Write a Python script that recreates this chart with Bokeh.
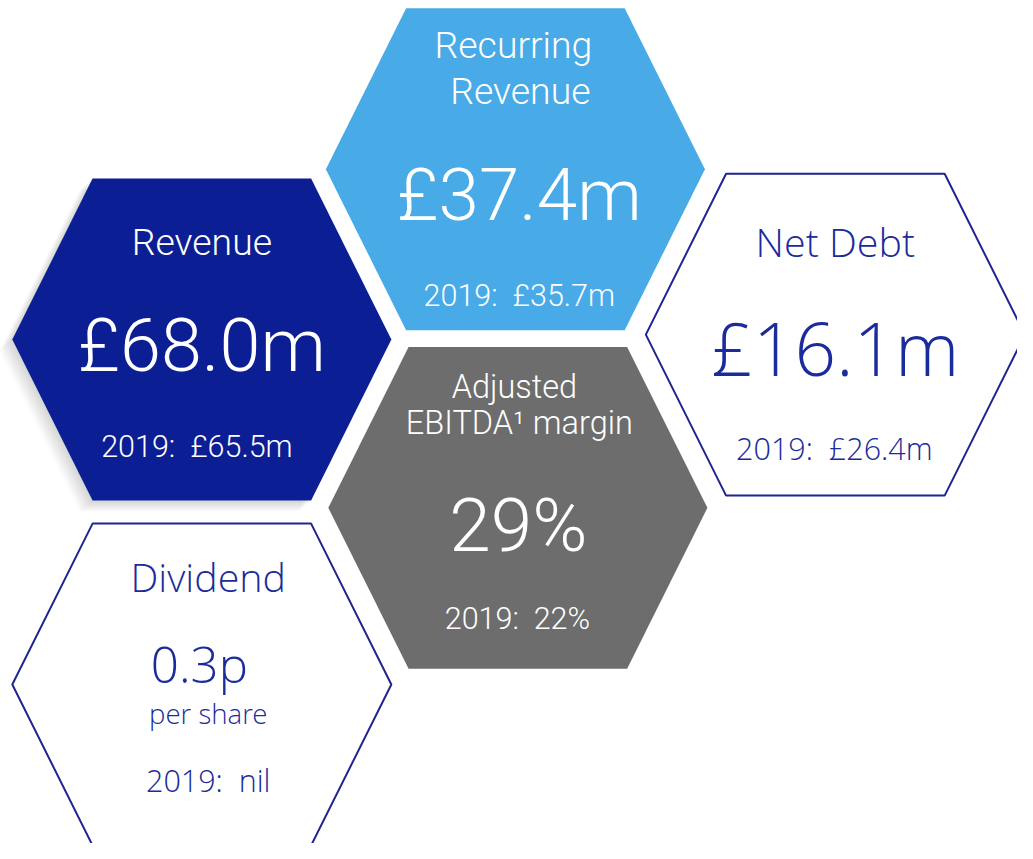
from bokeh.plotting import figure
from bokeh.models import Range1d
from bokeh.core.properties import value
from bokeh.embed import file_html
from bokeh.resources import INLINE

# ---------------- data ----------------
title_lines = [["Revenue"], ["Recurring", "Revenue"], ["Net Debt"],
               ["Adjusted", "EBITDA\u00b9 margin"], ["Dividend"]]
values_2020 = [68.0, 37.4, 16.1, 29, 0.3]
values_2019 = [65.5, 35.7, 26.4, 22, None]
units = ["£m", "£m", "£m", "%", "p"]
unit_notes = ["", "", "", "", "per share"]
prior_label = "2019:"


def fmt(v, u):
    if v is None:
        return "nil"
    if u == "£m":
        return f"£{v:.1f}m"
    if u == "%":
        return f"{v:.0f}%"
    return f"{v:.1f}p"


# ---------------- layout / style ----------------
REF_W, REF_H = 1033, 859
W, H = 1017, 843
S = W / REF_W
centers = [(204.5, 345.5), (523, 172), (848, 340.5), (525.5, 517), (204.5, 697)]
HR, HT, HH = 192.5, 111, 164
fills = ["#0b1e93", "#48aae6", "#ffffff", "#6d6d6d", "#ffffff"]
lines = [None, None, "#1f2590", None, "#1f2590"]
txt_colors = ["#ffffff", "#ffffff", "#1a2b9b", "#ffffff", "#1a2b9b"]
fonts = ["Roboto Light", "Roboto Light", "Open Sans Light", "Roboto Light", "Open Sans Light"]
# text baselines (relative to hexagon centre) and horizontal offsets
title_dy = [[-84.5], [-111, -65], [-78.5], [-110, -73], [-94]]
title_dx = [[0], [-2, 5], [0], [-3.5, 1.5], [6.5]]
value_dy = [36.5, 56, 42.5, 48, -1]
value_dx = [0, 4, 0, 0.5, -2.5]
note_dy = [None, None, None, None, 40]
note_dx = [0, 0, 0, 0, 6.5]
prior_dy = [121.5, 141, 127.5, 125, 110]
prior_dx = [-5, 4, -1, -0.5, 6.5]
title_size = [38, 38, 40, 33, 40]
value_size = [75, 74, 74, 76, 50]
note_size = 28
prior_size = 31
BASE_SHIFT = 0.4  # compensates the renderer's baseline placement

p = figure(width=W, height=H, x_range=Range1d(0, REF_W), y_range=Range1d(REF_H, 0),
           output_backend="svg", toolbar_location=None, x_axis_location=None,
           y_axis_location=None, min_border=0)
p.grid.visible = False
p.outline_line_color = None
p.background_fill_color = "#ffffff"
p.border_fill_color = "#ffffff"


def hexagon(cx, cy):
    return ([cx - HR, cx - HT, cx + HT, cx + HR, cx + HT, cx - HT],
            [cy, cy - HH, cy - HH, cy, cy + HH, cy + HH])


def label(x, y, s, size, color, font):
    p.text(x=[x], y=[y - BASE_SHIFT * size], text=[s], text_align="center",
           text_baseline="alphabetic", text_color=color, text_font=value(font),
           text_font_size=f"{size * S:.1f}px")


# soft shadow behind the Revenue hexagon
for k in range(1, 9):
    xs, ys = hexagon(centers[0][0] - 1.6 * k, centers[0][1] + 1.4 * k)
    p.patch(xs, ys, fill_color="#000000", fill_alpha=0.018, line_color=None)

for i, (cx, cy) in enumerate(centers):
    xs, ys = hexagon(cx, cy)
    if lines[i]:
        p.patch(xs, ys, fill_color=fills[i], line_color=lines[i], line_width=2)
    else:
        p.patch(xs, ys, fill_color=fills[i], line_color=None)

    c, f = txt_colors[i], fonts[i]
    for line, dy, dx in zip(title_lines[i], title_dy[i], title_dx[i]):
        label(cx + dx, cy + dy, line, title_size[i], c, f)
    label(cx + value_dx[i], cy + value_dy[i], fmt(values_2020[i], units[i]), value_size[i], c, f)
    if unit_notes[i]:
        label(cx + note_dx[i], cy + note_dy[i], unit_notes[i], note_size, c, f)
    label(cx + prior_dx[i], cy + prior_dy[i],
          prior_label + "\u00a0 " + fmt(values_2019[i], units[i]), prior_size, c, f)

open("out.html", "w").write(file_html(p, INLINE))
